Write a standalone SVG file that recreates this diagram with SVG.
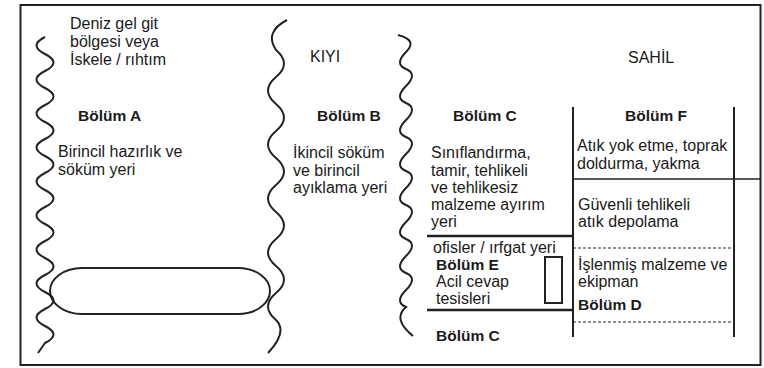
<svg xmlns="http://www.w3.org/2000/svg" width="764" height="368" viewBox="0 0 764 368">
<style>
text{font-family:"Liberation Sans",Arial,sans-serif;font-size:16px;fill:#1a1a1a}
.b{font-weight:bold;font-size:15.5px}
.ln{stroke:#222;fill:none}
.wave{stroke:#222;stroke-width:2;fill:none}
.dash{stroke:#222;stroke-width:1.2;stroke-dasharray:3 2;fill:none}
</style>
<rect x="0" y="0" width="764" height="368" fill="#fff"/>
<g id="frame"><rect x="20.5" y="5" width="740" height="360" class="ln" stroke-width="2"/></g>
<g id="connectors">
<path class="wave" d="M45,37 q-17,8.5 0,17 t0,17 t0,17 t0,17 t0,17 t0,17 t0,17 t0,17 t0,17 t0,17 t0,17 t0,17 t0,17 t0,17 t0,17 t0,17 t0,17 t0,17 l-7,10"/>
<path class="wave" d="M287,20 Q264,32 276,50 q16,13.5 0,27 t0,27 t0,27 t0,27 t0,27 t0,27 t0,27 t0,27 t0,27 t0,27 q12,12 -8,33"/>
<path class="wave" d="M398,35 q20,5 8,17 t0,17 t0,17 t0,17 t0,17 t0,17 t0,17 t0,17 t0,17 t0,17 t0,17 t0,17 t0,17 t0,17 t0,17 t0,17 q-14,12 7,29"/>
<line class="ln" stroke-width="2.5" x1="427" y1="236" x2="573" y2="236"/>
<line class="ln" stroke-width="2.5" x1="427" y1="310" x2="573" y2="310"/>
<line class="ln" stroke-width="2" x1="573" y1="107" x2="573" y2="337"/>
<line class="ln" stroke-width="2" x1="734" y1="107" x2="734" y2="337"/>
<line class="ln" stroke-width="1.5" x1="573" y1="179" x2="760" y2="179"/>
<line class="dash" x1="573" y1="248" x2="734" y2="248"/>
<line class="dash" x1="573" y1="322" x2="734" y2="322"/>
</g>
<g id="nodeA">
<text x="70" y="29">Deniz gel git</text>
<text x="70" y="47">bölgesi veya</text>
<text x="70" y="65">İskele / rıhtım</text>
<text x="78" y="121" class="b">Bölüm A</text>
<text x="58" y="157">Birincil hazırlık ve</text>
<text x="58" y="175">söküm yeri</text>
<rect x="50" y="268" width="220" height="46" rx="32" ry="23" class="ln" stroke-width="2"/>
</g>
<g id="nodeB">
<text x="310" y="62">KIYI</text>
<text x="317" y="121" class="b">Bölüm B</text>
<text x="293" y="158">İkincil söküm</text>
<text x="293" y="176">ve birincil</text>
<text x="293" y="193">ayıklama yeri</text>
</g>
<g id="nodeC">
<text x="628" y="63">SAHİL</text>
<text x="453" y="121" class="b">Bölüm C</text>
<text x="431" y="158">Sınıflandırma,</text>
<text x="431" y="176">tamir, tehlikeli</text>
<text x="431" y="193">ve tehlikesiz</text>
<text x="431" y="210">malzeme ayırım</text>
<text x="431" y="227">yeri</text>
</g>
<g id="nodeE">
<text x="433" y="253">ofisler / ırfgat yeri</text>
<text x="436" y="270" class="b">Bölüm E</text>
<text x="436" y="287">Acil cevap</text>
<text x="436" y="304">tesisleri</text>
<rect x="545" y="257" width="17" height="46" class="ln" stroke-width="2"/>
</g>
<g id="nodeC2"><text x="436" y="341" class="b">Bölüm C</text></g>
<g id="nodeF">
<text x="625" y="121" class="b">Bölüm F</text>
<text x="577" y="151">Atık yok etme, toprak</text>
<text x="577" y="169">doldurma, yakma</text>
</g>
<g id="nodeG">
<text x="578" y="210">Güvenli tehlikeli</text>
<text x="578" y="227">atık depolama</text>
</g>
<g id="nodeD">
<text x="578" y="270">İşlenmiş malzeme ve</text>
<text x="578" y="287">ekipman</text>
<text x="578" y="310" class="b">Bölüm D</text>
</g>
</svg>
